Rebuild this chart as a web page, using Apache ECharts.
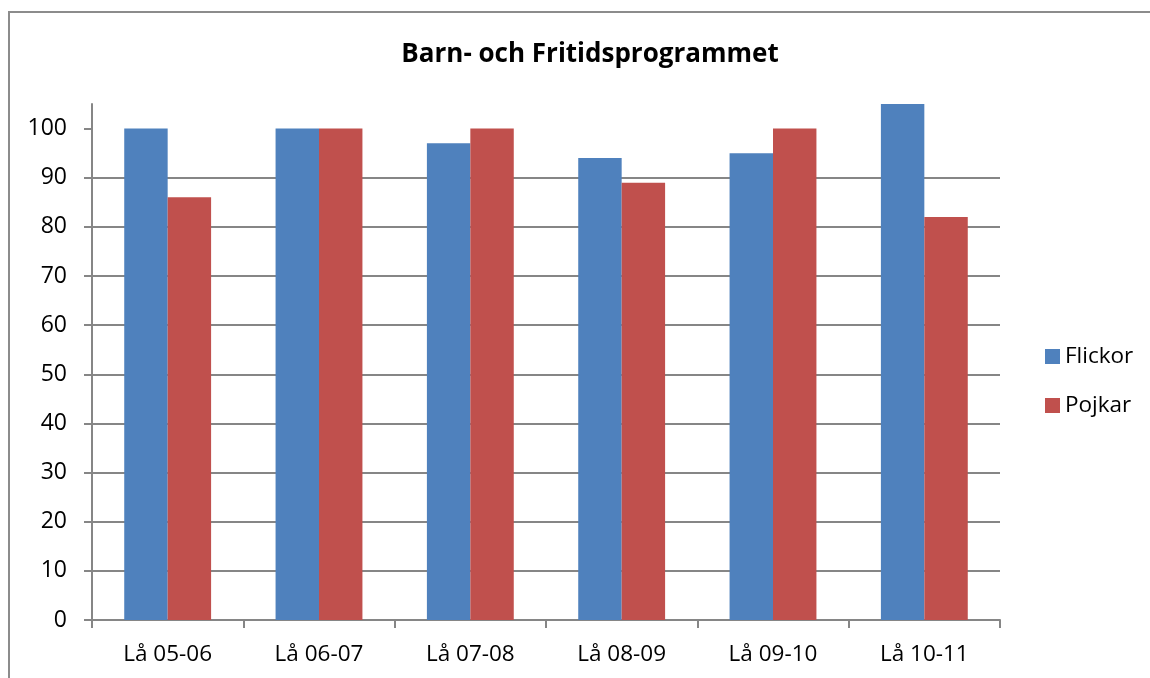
<!DOCTYPE html>
<html>
<head>
<meta charset="utf-8">
<script src="https://cdn.jsdelivr.net/npm/echarts@6/dist/echarts.min.js"></script>
<style>
html,body{margin:0;padding:0;background:#fff;}
#chart{width:1150px;height:678px;}
</style>
</head>
<body>
<div id="chart"></div>
<script>
var categories = ['Lå 05-06', 'Lå 06-07', 'Lå 07-08', 'Lå 08-09', 'Lå 09-10', 'Lå 10-11'];
var flickor = [100, 100, 97, 94, 95, 105];
var pojkar = [86, 100, 100, 89, 100, 82];
var yTicks = [0, 10, 20, 30, 40, 50, 60, 70, 80, 90, 100];
var titleText = 'Barn- och Fritidsprogrammet';

var FONT = 'Open Sans';
var chart = echarts.init(document.getElementById('chart'));
chart.setOption({
  animation: false,
  backgroundColor: '#fff',
  title: {
    text: titleText,
    left: 585, top: 37, textAlign: 'center',
    textStyle: {fontFamily: FONT, fontWeight: 'bold', fontSize: 26, color: '#000'}
  },
  legend: {
    orient: 'vertical', left: 1040, top: 340, itemGap: 26,
    itemWidth: 15, itemHeight: 15, icon: 'rect',
    textStyle: {fontFamily: FONT, fontSize: 22.5, color: '#000', padding: [0,0,0,0]},
    data: ['Flickor', 'Pojkar']
  },
  graphic: [{
    type: 'rect', silent: true,
    shape: {x: 9, y: 12, width: 1200, height: 700},
    style: {fill: 'none', stroke: '#8c8c8c', lineWidth: 2}
  }],
  grid: {left: 92, right: 150, top: 104, bottom: 58},
  xAxis: {
    type: 'category', data: categories,
    axisLine: {lineStyle: {color: '#868686', width: 2}},
    axisTick: {show: true, length: 8, lineStyle: {color: '#868686', width: 2}},
    axisLabel: {fontFamily: FONT, fontSize: 22.5, color: '#000', margin: 23}
  },
  yAxis: {
    type: 'value', min: 0, max: 105, interval: 10,
    axisLine: {show: true, lineStyle: {color: '#868686', width: 2}},
    axisTick: {show: true, inside: false, length: 8, customValues: yTicks, lineStyle: {color: '#868686', width: 2}},
    axisLabel: {fontFamily: FONT, fontSize: 23, color: '#000', margin: 25, customValues: yTicks},
    splitLine: {show: true, showMaxLine: false, lineStyle: {color: '#868686', width: 2}}
  },
  series: [{
    name: 'Flickor', type: 'bar', data: flickor,
    barWidth: '28.7%', barGap: '0%',
    itemStyle: {color: '#4f81bd'}
  }, {
    name: 'Pojkar', type: 'bar', data: pojkar,
    barWidth: '28.7%', barGap: '0%',
    itemStyle: {color: '#c0504d'}
  }]
});
</script>
</body>
</html>
